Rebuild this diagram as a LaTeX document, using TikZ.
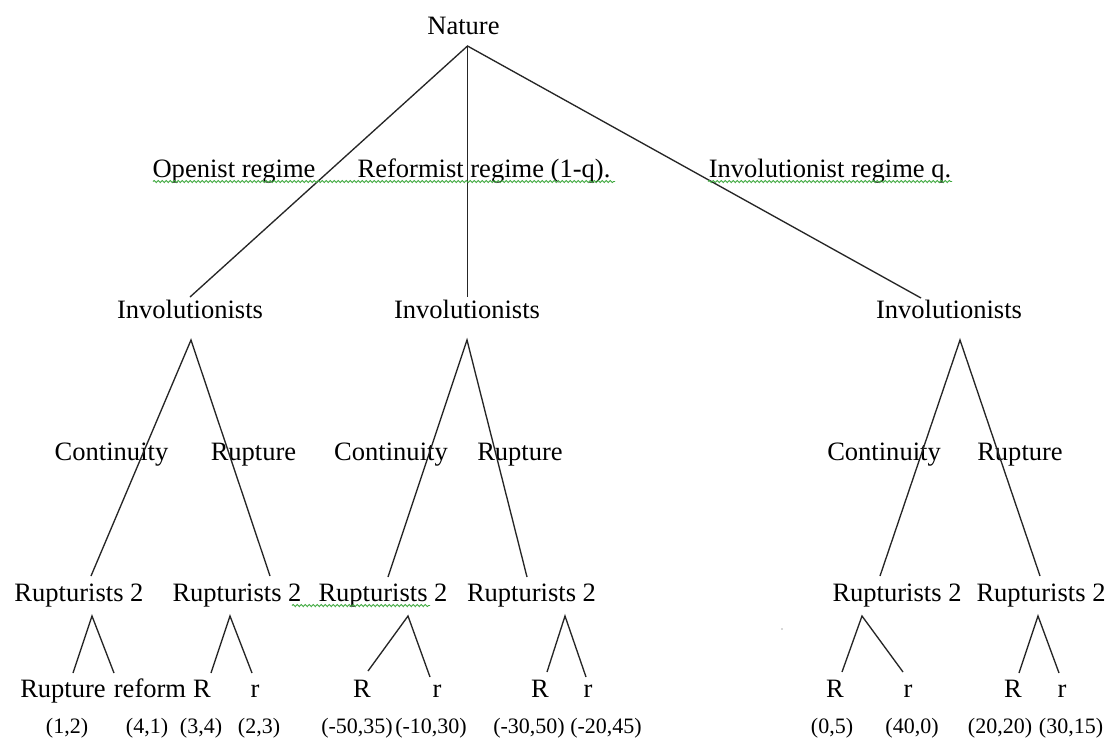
\documentclass[tikz,border=0pt]{standalone}
\usepackage{fontspec}
\setmainfont{Liberation Serif}
\usetikzlibrary{decorations.pathmorphing}
\begin{document}
\begin{tikzpicture}[x=0.75pt,y=-0.75pt,
  lbl/.style={anchor=base,inner sep=0pt,font=\fontsize{19.9pt}{22pt}\selectfont},
  pay/.style={anchor=base,inner sep=0pt,font=\fontsize{16.5pt}{18pt}\selectfont},
  edge/.style={line width=1pt,black!85},
  spell/.style={draw=green!55!black!75,line width=0.7pt,decorate,
                decoration={snake,amplitude=0.8pt,segment length=3pt}}]
\fill[white] (0,0) rectangle (1112,743);
\useasboundingbox (0,0) rectangle (1112,743);

% ---------- labels ----------
\node[lbl] (nature) at (463.5,34) {Nature};
\node[lbl] (openist) at (234,177) {Openist regime};
\node[lbl] (reformist) at (484,177) {Reformist regime (1-q).};
\node[lbl] (involreg) at (830,177) {Involutionist regime q.};

\node[lbl] (invA) at (190,318) {Involutionists};
\node[lbl] (invB) at (467,318) {Involutionists};
\node[lbl] (invC) at (949,318) {Involutionists};

\node[lbl] (contA) at (111.5,460) {Continuity};
\node[lbl] (rupA)  at (253.5,460) {Rupture};
\node[lbl] (contB) at (391,460) {Continuity};
\node[lbl] (rupB)  at (520,460) {Rupture};
\node[lbl] (contC) at (884,460) {Continuity};
\node[lbl] (rupC)  at (1020,460) {Rupture};

\node[lbl] (rt1) at (79,601) {Rupturists 2};
\node[lbl] (rt2) at (237,601) {Rupturists 2};
\node[lbl] (rt3) at (383,601) {Rupturists 2};
\node[lbl] (rt4) at (531.5,601) {Rupturists 2};
\node[lbl] (rt5) at (897,601) {Rupturists 2};
\node[lbl] (rt6) at (1041,601) {Rupturists 2};

\node[lbl] (lf1a) at (63,697) {Rupture};
\node[lbl] (lf1b) at (150,697) {reform};
\node[lbl] (lf2a) at (202,697) {R};
\node[lbl] (lf2b) at (255,697) {r};
\node[lbl] (lf3a) at (362,697) {R};
\node[lbl] (lf3b) at (437,697) {r};
\node[lbl] (lf4a) at (540,697) {R};
\node[lbl] (lf4b) at (588,697) {r};
\node[lbl] (lf5a) at (835,697) {R};
\node[lbl] (lf5b) at (908,697) {r};
\node[lbl] (lf6a) at (1013,697) {R};
\node[lbl] (lf6b) at (1062,697) {r};

\node[pay] (p1a) at (67,733) {(1,2)};
\node[pay] (p1b) at (147,733) {(4,1)};
\node[pay] (p2a) at (201,733) {(3,4)};
\node[pay] (p2b) at (259,733) {(2,3)};
\node[pay] (p3a) at (357,733) {(-50,35)};
\node[pay] (p3b) at (431,733) {(-10,30)};
\node[pay] (p4a) at (529,733) {(-30,50)};
\node[pay] (p4b) at (606,733) {(-20,45)};
\node[pay] (p5a) at (832,733) {(0,5)};
\node[pay] (p5b) at (912,733) {(40,0)};
\node[pay] (p6a) at (1000,733) {(20,20)};
\node[pay] (p6b) at (1071,733) {(30,15)};

% ---------- branch points ----------
\coordinate (nat-s) at (467.5,46);
\coordinate (invA-n) at (190,297);
\coordinate (invB-n) at (467.5,297);
\coordinate (invC-n) at (921,298);
\coordinate (invA-s) at (191,340);
\coordinate (invB-s) at (467,340);
\coordinate (invC-s) at (960,340);
\coordinate (rt1-n) at (91,576);
\coordinate (rt2-n) at (270,576);
\coordinate (rt3-n) at (388,577);
\coordinate (rt4-n) at (527,577);
\coordinate (rt5-n) at (880,576);
\coordinate (rt6-n) at (1040,576);
\coordinate (rt1-s) at (92,616);
\coordinate (rt2-s) at (230,616);
\coordinate (rt3-s) at (408,616);
\coordinate (rt4-s) at (565,616);
\coordinate (rt5-s) at (862,616);
\coordinate (rt6-s) at (1038,616);
\coordinate (lf1a-n) at (73,673);
\coordinate (lf1b-n) at (114,673);
\coordinate (lf2a-n) at (211,673);
\coordinate (lf2b-n) at (252,673);
\coordinate (lf3a-n) at (368,671);
\coordinate (lf3b-n) at (430,677);
\coordinate (lf4a-n) at (547,672);
\coordinate (lf4b-n) at (586,677);
\coordinate (lf5a-n) at (842,672);
\coordinate (lf5b-n) at (903,672);
\coordinate (lf6a-n) at (1019,673);
\coordinate (lf6b-n) at (1059,673);

% ---------- edges ----------
\draw[edge] (invA-n) -- (nat-s) -- (invC-n);
\draw[edge] (nat-s) -- (invB-n);
\draw[edge] (rt1-n) -- (invA-s) -- (rt2-n);
\draw[edge] (rt3-n) -- (invB-s) -- (rt4-n);
\draw[edge] (rt5-n) -- (invC-s) -- (rt6-n);
\draw[edge] (lf1a-n) -- (rt1-s) -- (lf1b-n);
\draw[edge] (lf2a-n) -- (rt2-s) -- (lf2b-n);
\draw[edge] (lf3a-n) -- (rt3-s) -- (lf3b-n);
\draw[edge] (lf4a-n) -- (rt4-s) -- (lf4b-n);
\draw[edge] (lf5a-n) -- (rt5-s) -- (lf5b-n);
\draw[edge] (lf6a-n) -- (rt6-s) -- (lf6b-n);

% ---------- wavy underlines ----------
\path[spell] (153,181.5) -- (615,181.5);
\path[spell] (708,181.5) -- (952,181.5);
\path[spell] (292,605.5) -- (430,605.5);

% stray speck
\fill[gray!60] (782,629) circle (0.9);
\end{tikzpicture}
\end{document}
